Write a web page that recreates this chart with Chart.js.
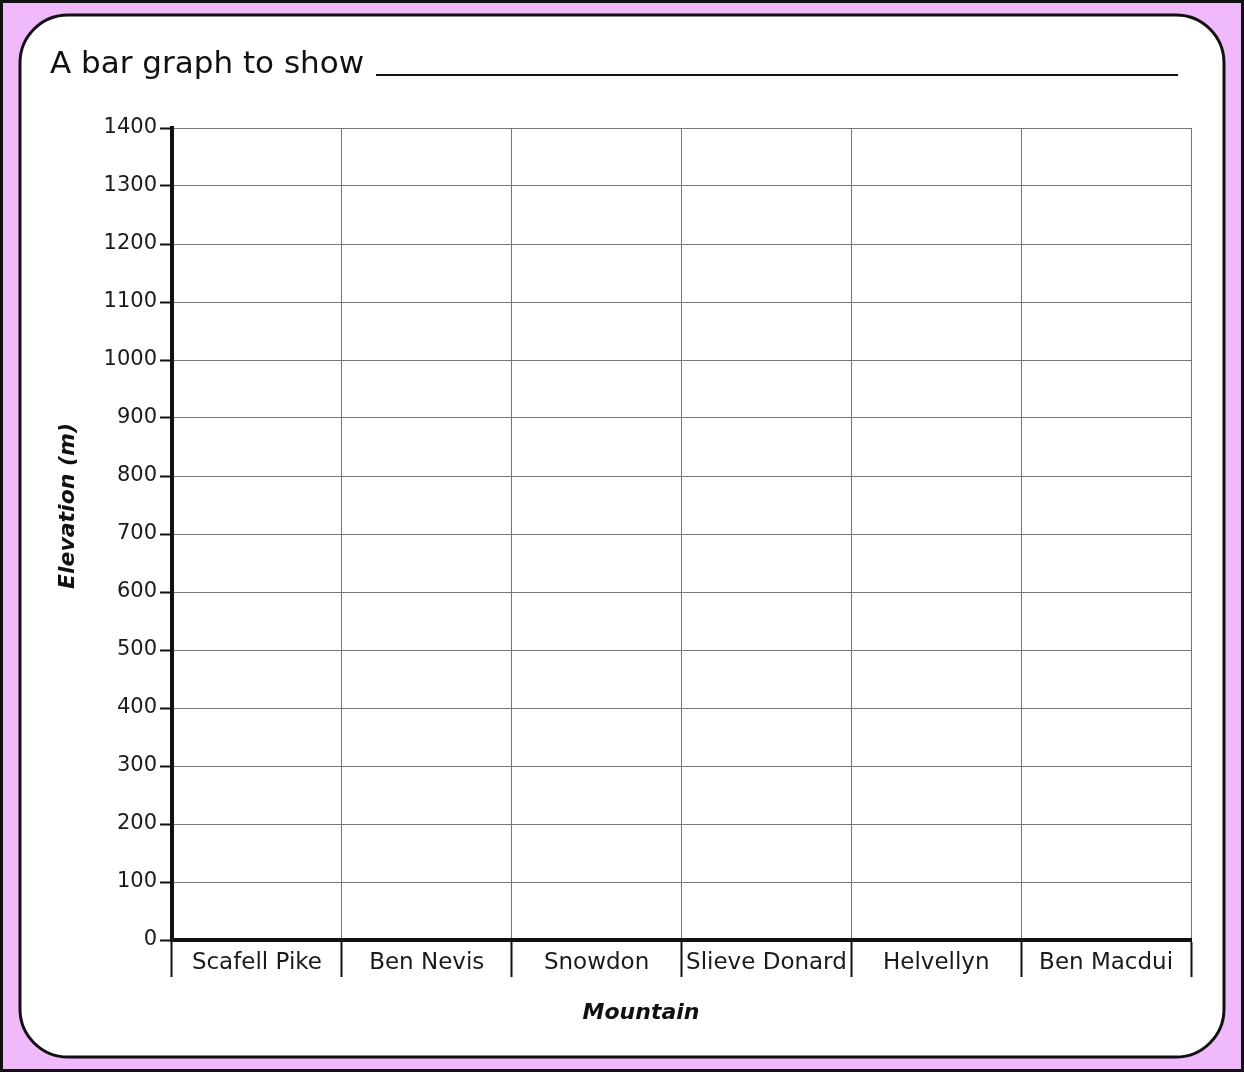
<!DOCTYPE html>
<html>
<head>
<meta charset="utf-8">
<style>
html,body{margin:0;padding:0;background:#fff;}
canvas{display:block;}
</style>
<script src="https://cdn.jsdelivr.net/npm/chart.js@4/dist/chart.umd.min.js"></script>
</head>
<body>
<canvas id="c" width="1244" height="1072"></canvas>
<script>
// ---- data ----
const chartTitle = 'A bar graph to show ';
const mountains = ['Scafell Pike', 'Ben Nevis', 'Snowdon', 'Slieve Donard', 'Helvellyn', 'Ben Macdui'];
const elevations = [null, null, null, null, null, null]; // blank template: no bars drawn
const yMin = 0;
const yMax = 1400;
const yStep = 100;
const yTitle = 'Elevation (m)';
const xTitle = 'Mountain';

const FONT = '"DejaVu Sans", sans-serif';

const framePlugin = {
  id: 'frame',
  beforeDraw(chart) {
    const ctx = chart.ctx;
    const W = chart.width, H = chart.height;
    ctx.save();
    ctx.fillStyle = '#f0b9fc';
    ctx.fillRect(0, 0, W, H);
    ctx.lineWidth = 3;
    ctx.strokeStyle = '#111';
    ctx.strokeRect(1.5, 1.5, W - 3, H - 3);
    // white rounded card
    const x = 20, y = 15, w = 1204, h = 1042, r = 48;
    ctx.beginPath();
    ctx.roundRect(x, y, w, h, r);
    ctx.fillStyle = '#ffffff';
    ctx.fill();
    ctx.lineWidth = 3;
    ctx.strokeStyle = '#111';
    ctx.stroke();
    // title
    ctx.fillStyle = '#111';
    ctx.font = '31px ' + FONT;
    ctx.textBaseline = 'alphabetic';
    ctx.textAlign = 'left';
    ctx.fillText(chartTitle, 50, 73);
    ctx.beginPath();
    ctx.lineWidth = 2;
    ctx.moveTo(376, 75);
    ctx.lineTo(1178, 75);
    ctx.stroke();
    // axis titles
    ctx.font = 'italic bold 22px ' + FONT;
    ctx.textAlign = 'center';
    ctx.textBaseline = 'middle';
    ctx.fillText(xTitle, 641, 1013);
    ctx.translate(68, 506);
    ctx.rotate(-Math.PI / 2);
    ctx.fillText(yTitle, 0, 0);
    ctx.restore();
  }
};

new Chart(document.getElementById('c'), {
  type: 'bar',
  data: {
    labels: mountains,
    datasets: [{
      label: 'Elevation',
      data: elevations,
      backgroundColor: '#4a78c2'
    }]
  },
  options: {
    responsive: false,
    animation: false,
    layout: { padding: { left: 50, right: 53, top: 128, bottom: 40 } },
    plugins: {
      legend: { display: false },
      tooltip: { enabled: false },
      title: { display: false }
    },
    scales: {
      x: {
        offset: true,
        grid: {
          offset: true,
          color: '#777',
          lineWidth: 1,
          drawTicks: true,
          tickLength: 37,
          tickColor: '#111',
          tickWidth: 2
        },
        border: { display: true, color: '#111', width: 4 },
        ticks: {
          color: '#1a1a1a',
          font: { family: FONT, size: 23 },
          padding: -28,
          maxRotation: 0,
          autoSkip: false
        },
        title: { display: false },
        afterFit(s) { s.height = 92; }
      },
      y: {
        min: yMin,
        max: yMax,
        grid: {
          color: '#777',
          lineWidth: 1,
          drawTicks: true,
          tickLength: 12,
          tickColor: '#111',
          tickWidth: 2
        },
        border: { display: true, color: '#111', width: 4 },
        ticks: {
          stepSize: yStep,
          color: '#1a1a1a',
          font: { family: FONT, size: 21 },
          padding: 3,
          callback: (v) => String(v)
        },
        title: { display: false },
        afterFit(s) { s.width = 122; }
      }
    }
  },
  plugins: [framePlugin]
});
</script>
</body>
</html>
